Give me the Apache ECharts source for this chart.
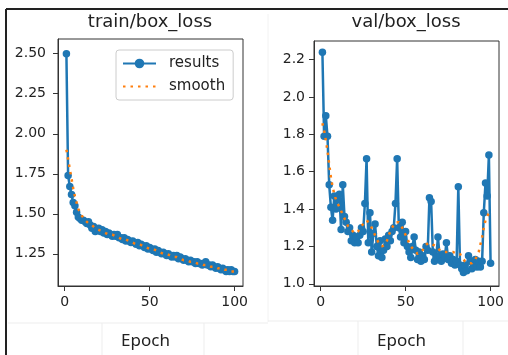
<!DOCTYPE html>
<html>
<head>
<meta charset="utf-8">
<script src="https://cdn.jsdelivr.net/npm/echarts@6/dist/echarts.min.js"></script>
<style>
  html, body { margin: 0; padding: 0; background: #fff; }
  #main { width: 508px; height: 355px; }
</style>
</head>
<body>
<div id="main"></div>
<script>
// epochs on the x axis
const epochs = [
  1, 2, 3, 4, 5, 6, 7, 8, 9, 10, 11, 12, 13, 14, 15, 16, 17, 18, 19, 20,
  21, 22, 23, 24, 25, 26, 27, 28, 29, 30, 31, 32, 33, 34, 35, 36, 37, 38, 39, 40,
  41, 42, 43, 44, 45, 46, 47, 48, 49, 50, 51, 52, 53, 54, 55, 56, 57, 58, 59, 60,
  61, 62, 63, 64, 65, 66, 67, 68, 69, 70, 71, 72, 73, 74, 75, 76, 77, 78, 79, 80,
  81, 82, 83, 84, 85, 86, 87, 88, 89, 90, 91, 92, 93, 94, 95, 96, 97, 98, 99, 100
];

const trainResults = [
  2.50, 1.74, 1.67, 1.62, 1.57, 1.55, 1.51, 1.48, 1.47, 1.46,
  1.46, 1.45, 1.44, 1.45, 1.43, 1.41, 1.42, 1.39, 1.40, 1.41,
  1.39, 1.40, 1.38, 1.39, 1.37, 1.38, 1.37, 1.36, 1.37, 1.36,
  1.37, 1.35, 1.35, 1.34, 1.35, 1.33, 1.34, 1.33, 1.32, 1.33,
  1.32, 1.31, 1.32, 1.30, 1.31, 1.30, 1.29, 1.30, 1.28, 1.29,
  1.28, 1.27, 1.28, 1.26, 1.27, 1.26, 1.25, 1.26, 1.25, 1.24,
  1.25, 1.24, 1.23, 1.24, 1.23, 1.24, 1.22, 1.23, 1.22, 1.21,
  1.22, 1.21, 1.20, 1.21, 1.20, 1.20, 1.19, 1.20, 1.19, 1.19,
  1.18, 1.19, 1.20, 1.18, 1.18, 1.17, 1.18, 1.17, 1.16, 1.17,
  1.16, 1.15, 1.16, 1.15, 1.14, 1.15, 1.14, 1.15, 1.14, 1.14
];

const trainSmooth = [
  1.90, 1.84, 1.78, 1.72, 1.66, 1.61, 1.57, 1.53, 1.51, 1.49,
  1.48, 1.46, 1.45, 1.44, 1.44, 1.43, 1.42, 1.41, 1.41, 1.40,
  1.40, 1.39, 1.39, 1.38, 1.38, 1.37, 1.37, 1.37, 1.36, 1.36,
  1.36, 1.35, 1.35, 1.34, 1.34, 1.34, 1.33, 1.33, 1.33, 1.32,
  1.32, 1.31, 1.31, 1.31, 1.30, 1.30, 1.30, 1.29, 1.29, 1.28,
  1.28, 1.28, 1.27, 1.27, 1.26, 1.26, 1.26, 1.25, 1.25, 1.25,
  1.24, 1.24, 1.24, 1.23, 1.23, 1.23, 1.22, 1.22, 1.22, 1.21,
  1.21, 1.21, 1.20, 1.20, 1.20, 1.20, 1.19, 1.19, 1.19, 1.19,
  1.19, 1.18, 1.18, 1.18, 1.18, 1.17, 1.17, 1.17, 1.17, 1.16,
  1.16, 1.16, 1.15, 1.15, 1.15, 1.15, 1.15, 1.14, 1.14, 1.14
];

const valResults = [
  2.24, 1.79, 1.90, 1.79, 1.53, 1.41, 1.34, 1.47, 1.40, 1.45,
  1.48, 1.29, 1.53, 1.36, 1.33, 1.28, 1.30, 1.23, 1.26, 1.22,
  1.25, 1.22, 1.26, 1.30, 1.28, 1.43, 1.67, 1.22, 1.38, 1.17,
  1.27, 1.32, 1.20, 1.15, 1.23, 1.14, 1.18, 1.24, 1.20, 1.26,
  1.23, 1.28, 1.30, 1.43, 1.67, 1.30, 1.25, 1.33, 1.22, 1.28,
  1.20, 1.17, 1.14, 1.20, 1.25, 1.18, 1.13, 1.17, 1.12, 1.15,
  1.13, 1.20, 1.18, 1.46, 1.44, 1.17, 1.12, 1.14, 1.25, 1.15,
  1.12, 1.16, 1.14, 1.22, 1.13, 1.15, 1.11, 1.13, 1.10, 1.12,
  1.52, 1.10, 1.08, 1.06, 1.10, 1.07, 1.15, 1.12, 1.08, 1.10,
  1.13, 1.09, 1.12, 1.09, 1.12, 1.38, 1.54, 1.47, 1.69, 1.11
];

const valSmooth = [
  1.86, 1.82, 1.77, 1.71, 1.64, 1.57, 1.52, 1.48, 1.45, 1.43,
  1.41, 1.39, 1.37, 1.35, 1.33, 1.31, 1.30, 1.29, 1.28, 1.27,
  1.27, 1.28, 1.30, 1.31, 1.32, 1.33, 1.34, 1.33, 1.32, 1.31,
  1.28, 1.26, 1.24, 1.22, 1.21, 1.20, 1.20, 1.21, 1.23, 1.26,
  1.28, 1.30, 1.31, 1.33, 1.33, 1.33, 1.32, 1.30, 1.28, 1.27,
  1.24, 1.22, 1.20, 1.19, 1.18, 1.17, 1.16, 1.16, 1.17, 1.17,
  1.19, 1.21, 1.22, 1.22, 1.22, 1.21, 1.20, 1.20, 1.19, 1.18,
  1.18, 1.17, 1.17, 1.17, 1.17, 1.17, 1.17, 1.17, 1.17, 1.16,
  1.16, 1.16, 1.14, 1.13, 1.12, 1.12, 1.11, 1.11, 1.11, 1.12,
  1.13, 1.15, 1.17, 1.21, 1.25, 1.30, 1.34, 1.36, 1.38, 1.39
];

const xTicks = [0, 50, 100];
const trainYTicks = [1.25, 1.50, 1.75, 2.00, 2.25, 2.50];
const valYTicks = [1.0, 1.2, 1.4, 1.6, 1.8, 2.0, 2.2];

const blue = '#1f77b4';
const orange = '#ff7f0e';
const tickFont = 'DejaVu Sans';

function pairs(ys) {
  return epochs.map((e, i) => [e, ys[i]]);
}

function xAxisFor(gridIndex) {
  return {
    type: 'value',
    gridIndex: gridIndex,
    min: -3.95,
    max: 104.95,
    axisLine: { show: true, onZero: false, lineStyle: { color: '#333', width: 1 } },
    splitLine: { show: false },
    axisTick: { show: true, length: 5, customValues: xTicks, lineStyle: { color: '#333' } },
    axisLabel: { customValues: xTicks, margin: 9, fontSize: 14, fontFamily: tickFont, color: '#222' },
    name: 'Epoch',
    nameLocation: 'middle',
    nameGap: 47,
    nameTextStyle: { fontFamily: 'Noto Sans', fontSize: 17, color: '#222', padding: [0, 10, 0, 0] }
  };
}

function yAxisFor(gridIndex, min, max, ticks, digits, margin) {
  return {
    type: 'value',
    gridIndex: gridIndex,
    min: min,
    max: max,
    axisLine: { show: true, onZero: false, lineStyle: { color: '#333', width: 1 } },
    splitLine: { show: false },
    axisTick: { show: true, length: 5, customValues: ticks, lineStyle: { color: '#333' } },
    axisLabel: {
      customValues: ticks,
      margin: margin,
      fontSize: 14,
      fontFamily: tickFont,
      color: '#222',
      formatter: (v) => Number(v).toFixed(digits)
    }
  };
}

function resultsSeries(idx, ys) {
  return {
    name: 'results',
    type: 'line',
    xAxisIndex: idx,
    yAxisIndex: idx,
    z: 2,
    data: pairs(ys),
    symbol: 'circle',
    symbolSize: 7.5,
    showSymbol: true,
    itemStyle: { color: blue },
    lineStyle: { color: blue, width: 2.5 },
    emphasis: { disabled: true }
  };
}

function smoothSeries(idx, ys) {
  return {
    name: 'smooth',
    type: 'line',
    xAxisIndex: idx,
    yAxisIndex: idx,
    z: 4,
    data: pairs(ys),
    symbol: 'none',
    itemStyle: { color: orange },
    lineStyle: { color: orange, width: 2.5, type: [2.5, 5] },
    emphasis: { disabled: true }
  };
}

const chart = echarts.init(document.getElementById('main'), null, { renderer: 'canvas' });

chart.setOption({
  animation: false,
  backgroundColor: '#fff',
  title: [
    { text: 'train/box_loss', left: 150, top: 13, textAlign: 'center', padding: 0,
      textStyle: { fontFamily: tickFont, fontSize: 18, fontWeight: 'normal', color: '#222' } },
    { text: 'val/box_loss', left: 406, top: 13, textAlign: 'center', padding: 0,
      textStyle: { fontFamily: tickFont, fontSize: 18, fontWeight: 'normal', color: '#222' } }
  ],
  legend: {
    data: [
      { name: 'results' },
      { name: 'smooth', itemStyle: { opacity: 0 } }
    ],
    orient: 'vertical',
    left: 116,
    top: 50,
    padding: [6, 8, 6, 6],
    itemGap: 8,
    itemWidth: 33,
    itemHeight: 12,
    borderColor: '#cccccc',
    borderWidth: 1,
    borderRadius: 3,
    backgroundColor: '#fff',
    selectedMode: false,
    textStyle: { fontFamily: tickFont, fontSize: 15, color: '#222', padding: [0, 0, 0, 8] }
  },
  grid: [
    { left: 58, top: 39, width: 185, height: 251, show: true, borderColor: '#333', borderWidth: 1 },
    { left: 314, top: 41, width: 185, height: 248, show: true, borderColor: '#333', borderWidth: 1 }
  ],
  xAxis: [xAxisFor(0), xAxisFor(1)],
  yAxis: [
    yAxisFor(0, 1.049, 2.592, trainYTicks, 2, 12),
    yAxisFor(1, 0.988, 2.30, valYTicks, 1, 9)
  ],
  series: [
    resultsSeries(0, trainResults),
    smoothSeries(0, trainSmooth),
    resultsSeries(1, valResults),
    smoothSeries(1, valSmooth)
  ],
  graphic: [
    // screenshot frame and faint panel edges
    { type: 'line', silent: true, shape: { x1: 6, y1: 9, x2: 508, y2: 9 }, style: { stroke: '#222', lineWidth: 2 } },
    { type: 'line', silent: true, shape: { x1: 6, y1: 9, x2: 6, y2: 355 }, style: { stroke: '#222', lineWidth: 2 } },
    { type: 'line', silent: true, shape: { x1: 268, y1: 14, x2: 268, y2: 322 }, style: { stroke: '#f2f2f2', lineWidth: 1 } },
    { type: 'line', silent: true, shape: { x1: 8, y1: 323, x2: 268, y2: 323 }, style: { stroke: '#ededed', lineWidth: 1 } },
    { type: 'line', silent: true, shape: { x1: 268, y1: 321, x2: 508, y2: 321 }, style: { stroke: '#ededed', lineWidth: 1 } },
    { type: 'line', silent: true, shape: { x1: 102, y1: 323, x2: 102, y2: 355 }, style: { stroke: '#ededed', lineWidth: 1 } },
    { type: 'line', silent: true, shape: { x1: 204, y1: 323, x2: 204, y2: 355 }, style: { stroke: '#ededed', lineWidth: 1 } },
    { type: 'line', silent: true, shape: { x1: 358, y1: 321, x2: 358, y2: 355 }, style: { stroke: '#ededed', lineWidth: 1 } },
    { type: 'line', silent: true, shape: { x1: 463, y1: 321, x2: 463, y2: 355 }, style: { stroke: '#ededed', lineWidth: 1 } }
  ]
});
</script>
</body>
</html>
